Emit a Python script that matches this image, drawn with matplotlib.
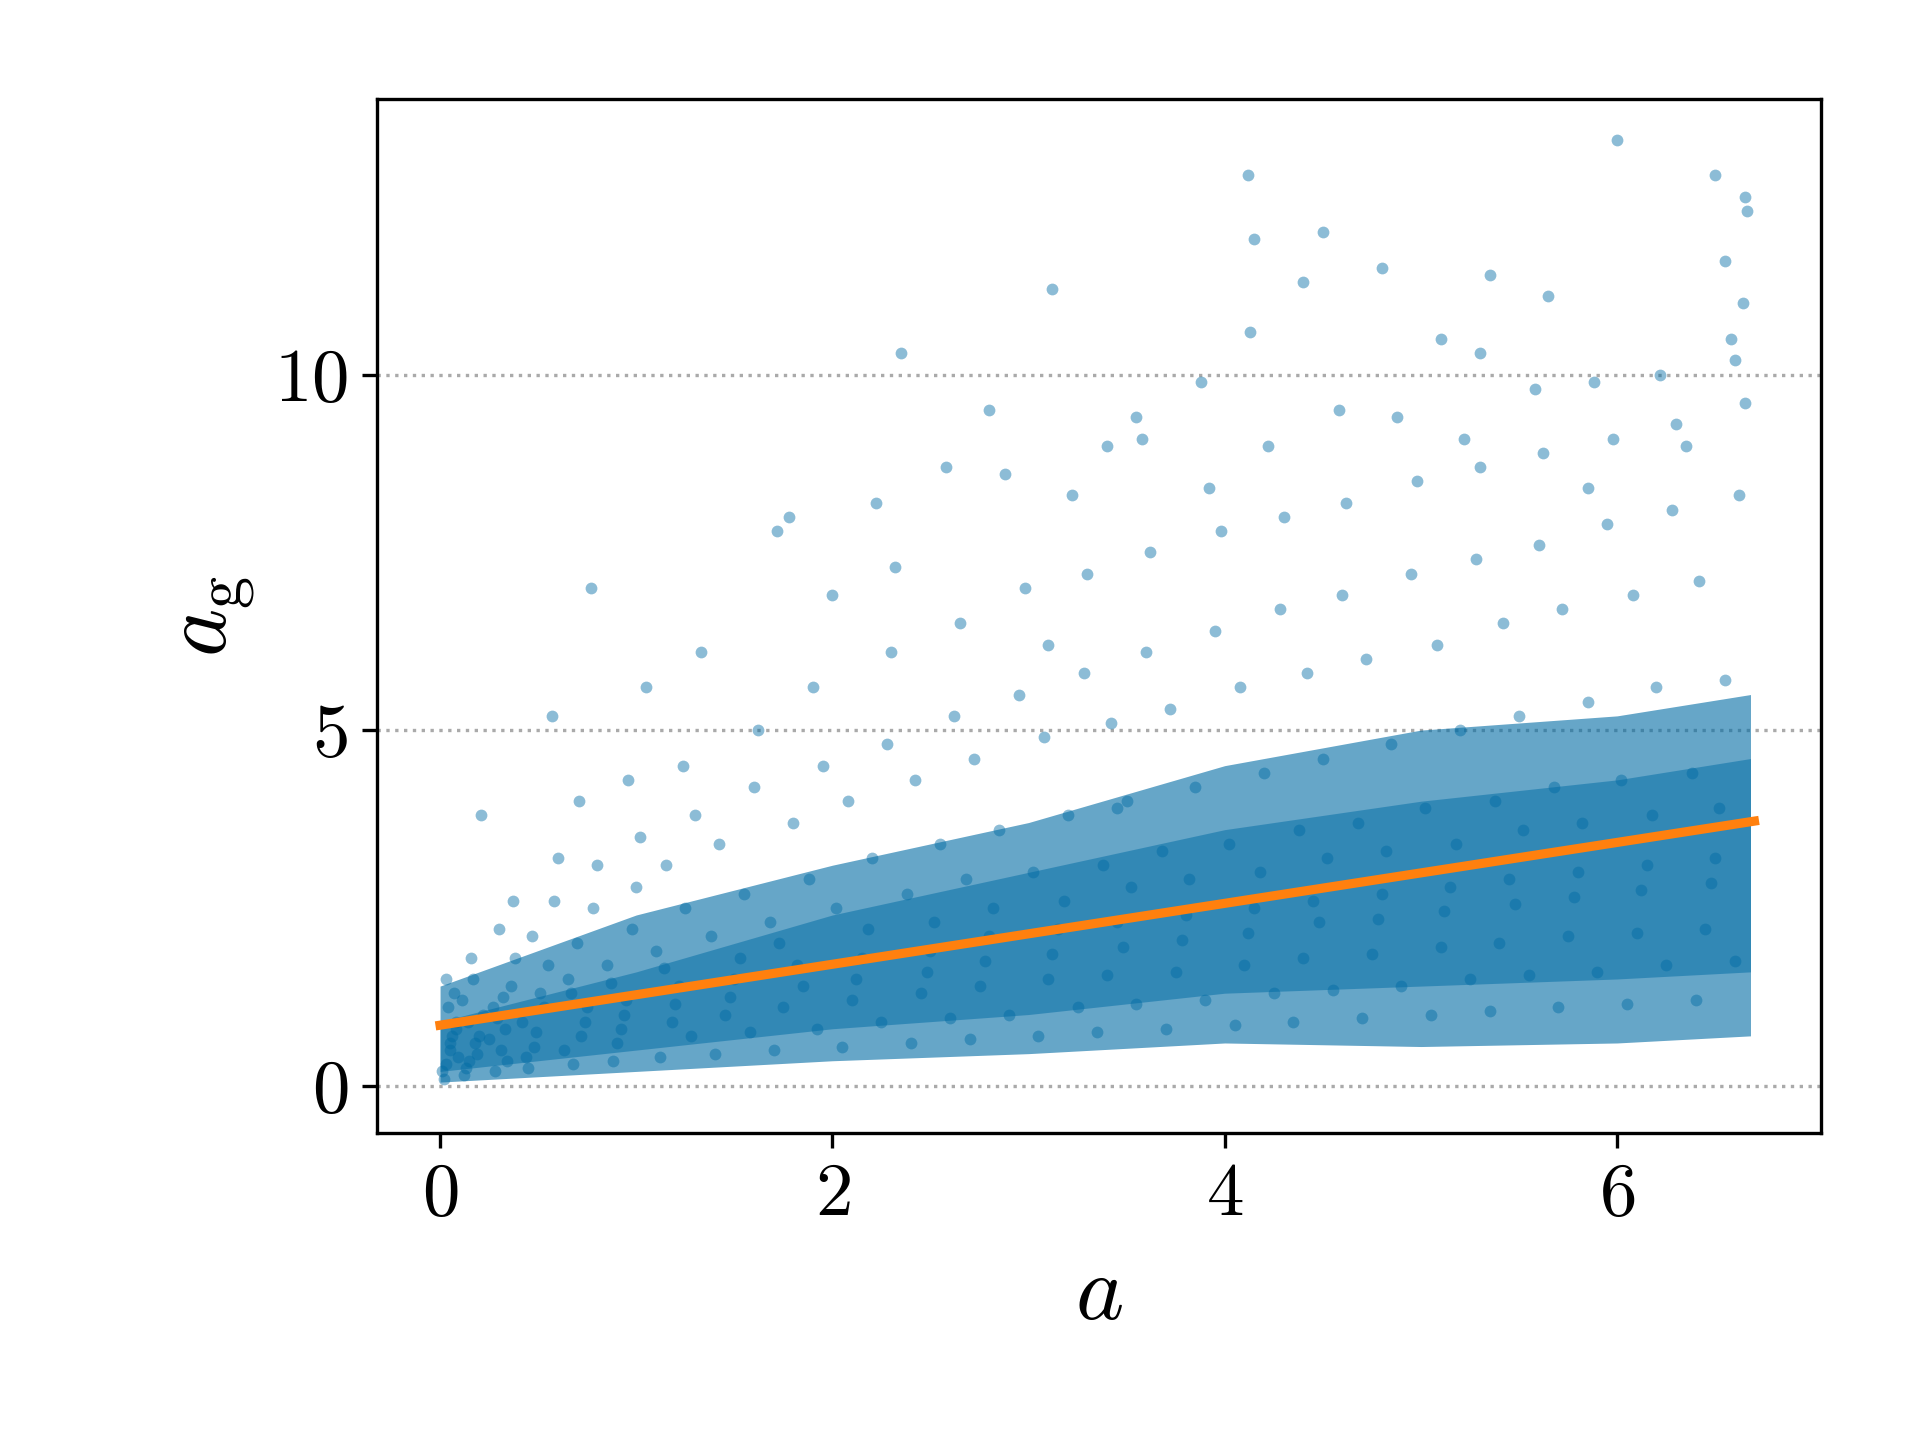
import matplotlib
matplotlib.use("Agg")
import matplotlib.pyplot as plt

# hand-estimated representative sample of the scatter cloud (x, y)
pts_x = [
0.02,0.03,0.05,0.06,0.08,0.04,0.07,0.09,0.01,0.05,0.03,0.08,
0.12,0.15,0.18,0.14,0.11,0.17,0.19,0.13,0.16,0.2,0.22,0.21,
0.28,0.31,0.33,0.27,0.36,0.38,0.3,0.34,0.25,0.37,0.29,0.32,
0.45,0.48,0.42,0.51,0.55,0.47,0.58,0.44,0.53,0.6,0.57,0.49,
0.68,0.72,0.75,0.65,0.7,0.78,0.63,0.74,0.8,0.67,0.77,0.71,
0.88,0.92,0.95,0.85,0.98,1.0,0.9,0.94,1.02,0.87,0.96,1.05,
1.12,1.18,1.22,1.1,1.25,1.15,1.28,1.2,1.3,1.14,1.24,1.33,
1.4,1.45,1.5,1.38,1.55,1.42,1.58,1.48,1.6,1.53,1.62,1.72,1.78,
1.7,1.75,1.82,1.68,1.88,1.8,1.92,1.85,1.95,1.73,1.9,2.0,
2.05,2.1,2.15,2.02,2.2,2.08,2.25,2.12,2.28,2.18,2.3,2.22,2.35,2.32,
2.4,2.45,2.5,2.38,2.55,2.42,2.6,2.48,2.62,2.52,2.65,2.58,2.8,
2.7,2.75,2.8,2.68,2.85,2.72,2.9,2.78,2.95,2.82,2.98,2.88,3.1,3.12,
3.05,3.1,3.15,3.02,3.2,3.08,3.25,3.12,3.28,3.18,3.3,3.22,3.4,
3.35,3.4,3.45,3.38,3.5,3.42,3.55,3.48,3.6,3.52,3.62,3.58,3.55,3.45,
3.7,3.75,3.8,3.68,3.85,3.72,3.9,3.78,3.95,3.82,3.98,3.88,3.92,
4.05,4.1,4.15,4.02,4.2,4.08,4.25,4.12,4.28,4.18,4.3,4.22,4.12,4.15,4.13,
4.35,4.4,4.45,4.38,4.5,4.42,4.55,4.48,4.6,4.52,4.62,4.58,4.5,4.4,
4.7,4.75,4.8,4.68,4.85,4.72,4.9,4.78,4.95,4.82,4.98,4.88,4.8,
5.05,5.1,5.15,5.02,5.2,5.08,5.25,5.12,5.28,5.18,5.3,5.22,5.1,5.3,
5.35,5.4,5.45,5.38,5.5,5.42,5.55,5.48,5.6,5.52,5.62,5.58,5.35,5.65,
5.7,5.75,5.8,5.68,5.85,5.72,5.9,5.78,5.95,5.82,5.98,5.88,5.85,
6.05,6.1,6.15,6.02,6.2,6.08,6.25,6.12,6.28,6.18,6.3,6.22,6.0,6.35,
6.4,6.45,6.5,6.38,6.55,6.42,6.6,6.48,6.62,6.52,6.65,6.58,6.5,6.55,6.65,6.66,6.64,6.6,
]
pts_y = [
0.1,0.3,0.5,0.7,0.9,1.1,1.3,0.4,0.2,0.6,1.5,0.8,
0.15,0.35,0.6,0.9,1.2,1.5,0.45,0.25,1.8,0.7,1.0,3.8,
0.2,0.5,0.8,1.1,1.4,1.8,2.2,0.35,0.65,2.6,0.95,1.25,
0.25,0.55,0.9,1.3,1.7,2.1,2.6,0.4,1.1,3.2,5.2,0.75,
0.3,0.7,1.1,1.5,2.0,2.5,0.5,0.9,3.1,1.3,7.0,4.0,
0.35,0.8,1.2,1.7,2.2,2.8,0.6,1.0,3.5,1.45,4.3,5.6,
0.4,0.9,1.4,1.9,2.5,3.1,0.7,1.15,3.8,1.65,4.5,6.1,
0.45,1.0,1.5,2.1,2.7,3.4,0.75,1.25,4.2,1.8,5.0,7.8,8.0,
0.5,1.1,1.7,2.3,2.9,3.7,0.8,1.4,4.5,2.0,5.6,6.9,
0.55,1.2,1.8,2.5,3.2,4.0,0.9,1.5,4.8,2.2,6.1,8.2,10.3,7.3,
0.6,1.3,1.9,2.7,3.4,4.3,0.95,1.6,5.2,2.3,6.5,8.7,9.5,
0.65,1.4,2.1,2.9,3.6,4.6,1.0,1.75,5.5,2.5,7.0,8.6,6.2,11.2,
0.7,1.5,2.2,3.0,3.8,4.9,1.1,1.85,5.8,2.6,7.2,8.3,9.0,
0.75,1.55,2.3,3.1,4.0,5.1,1.15,1.95,6.1,2.8,7.5,9.1,9.4,3.9,
0.8,1.6,2.4,3.3,4.2,5.3,1.2,2.05,6.4,2.9,7.8,9.9,8.4,
0.85,1.7,2.5,3.4,4.4,5.6,1.3,2.15,6.7,3.0,8.0,9.0,12.8,11.9,10.6,
0.9,1.8,2.6,3.6,4.6,5.8,1.35,2.3,6.9,3.2,8.2,9.5,12.0,11.3,
0.95,1.85,2.7,3.7,4.8,6.0,1.4,2.35,7.2,3.3,8.5,9.4,11.5,
1.0,1.95,2.8,3.9,5.0,6.2,1.5,2.45,7.4,3.4,8.7,9.1,10.5,10.3,
1.05,2.0,2.9,4.0,5.2,6.5,1.55,2.55,7.6,3.6,8.9,9.8,11.4,11.1,
1.1,2.1,3.0,4.2,5.4,6.7,1.6,2.65,7.9,3.7,9.1,9.9,8.4,
1.15,2.15,3.1,4.3,5.6,6.9,1.7,2.75,8.1,3.8,9.3,10.0,13.3,9.0,
1.2,2.2,3.2,4.4,5.7,7.1,1.75,2.85,8.3,3.9,9.6,10.5,12.8,11.6,12.5,12.3,11.0,10.2,
]

# estimated envelope of the dense part of the cloud
band_x = [0.0, 1.0, 2.0, 3.0, 4.0, 5.0, 6.0, 6.68]
outer_lo = [0.05, 0.2, 0.35, 0.45, 0.6, 0.55, 0.6, 0.7]
outer_hi = [1.4, 2.4, 3.1, 3.7, 4.5, 5.0, 5.2, 5.5]
inner_lo = [0.2, 0.5, 0.8, 1.0, 1.3, 1.4, 1.5, 1.6]
inner_hi = [0.9, 1.6, 2.4, 3.0, 3.6, 4.0, 4.3, 4.6]

line_x = [0.0, 6.7]
line_y = [0.85, 3.72]

n = min(len(pts_x), len(pts_y))

plt.rcParams['font.family'] = ['cmr10', 'DejaVu Serif']
plt.rcParams['mathtext.fontset'] = 'cm'
plt.rcParams['axes.formatter.use_mathtext'] = True

blue = '#006BA4'
fig = plt.figure(figsize=(6.4, 4.8), dpi=300)
ax = fig.add_axes([0.1965, 0.213, 0.752, 0.718])
ax.fill_between(band_x, outer_lo, outer_hi, color=blue, alpha=0.6, lw=0, zorder=1)
ax.fill_between(band_x, inner_lo, inner_hi, color=blue, alpha=0.5, lw=0, zorder=1)
ax.scatter(pts_x[:n], pts_y[:n], s=8, color=blue, alpha=0.45, linewidths=0, zorder=2)
ax.plot(line_x, line_y, color='#FF800E', lw=2.2, zorder=3)
ax.set_xlim(-0.32, 7.04)
ax.set_ylim(-0.67, 13.87)
ax.set_xticks([0, 2, 4, 6])
ax.set_yticks([0, 5, 10])
ax.yaxis.grid(True, linestyle=':', color='#aaaaaa', lw=0.8, zorder=0)
ax.set_axisbelow(True)
ax.tick_params(labelsize=18)
ax.set_xlabel(r'$a$', fontsize=22, labelpad=6)
ax.set_ylabel(r'$a_{\rm g}$', fontsize=22)
for s in ax.spines.values():
    s.set_linewidth(0.8)
fig.savefig('out.png', dpi=300)
